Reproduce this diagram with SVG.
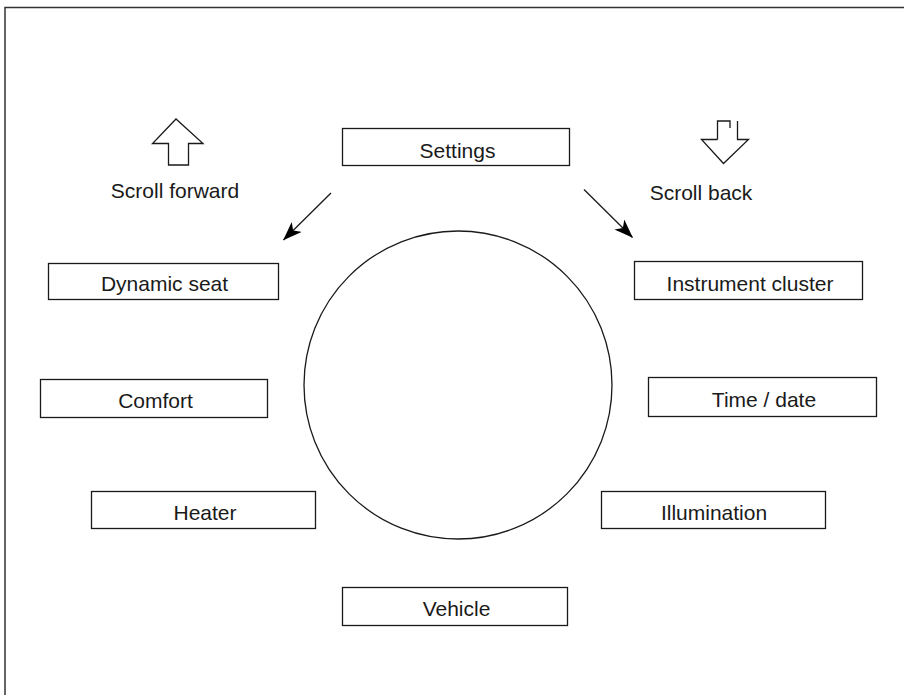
<svg xmlns="http://www.w3.org/2000/svg" width="904" height="695" viewBox="0 0 904 695">
<style>
.box{fill:#fff;stroke:#1a1a1a;stroke-width:1.3}
.lbl{font-family:"Liberation Sans",Arial,sans-serif;font-size:21px;fill:#1a1a1a;text-anchor:middle}
.ln{fill:none;stroke:#1a1a1a;stroke-width:1.3}
</style>
<defs>
<marker id="ah" viewBox="0 0 19 14" refX="18.5" refY="7" markerWidth="19" markerHeight="14" markerUnits="userSpaceOnUse" orient="auto">
<path d="M0,0 L19,7 L0,14 L5,7 Z" fill="#000"/>
</marker>
</defs>
<rect width="904" height="695" fill="#fff"/>
<path d="M5,695 V7.5 H904" fill="none" stroke="#333" stroke-width="1.5"/>
<g id="dial"><circle cx="458" cy="385" r="154" class="ln"/></g>
<g id="scroll-forward">
<path d="M168.5,165 V143.5 H152.5 L176,119 L203,143.5 H188.5 V165 Z" class="ln"/>
<text x="175" y="198" class="lbl">Scroll forward</text>
</g>
<g id="scroll-back">
<path d="M717.5,139.5 V121 H730 V128 M737.5,121 V139.5 H748.5 L723.5,163.5 L701.5,139.5 H717.5" class="ln"/>
<text x="701" y="200" class="lbl">Scroll back</text>
</g>
<g id="settings"><rect x="342.5" y="128.5" width="227" height="37" class="box"/><text x="457.5" y="157.5" class="lbl">Settings</text></g>
<g id="dynamic-seat"><rect x="48.5" y="263.5" width="230" height="36" class="box"/><text x="164.5" y="290.5" class="lbl">Dynamic seat</text></g>
<g id="instrument-cluster"><rect x="634.5" y="261.5" width="228" height="38" class="box"/><text x="750" y="290.5" class="lbl">Instrument cluster</text></g>
<g id="comfort"><rect x="40.5" y="379.5" width="227" height="38" class="box"/><text x="155.5" y="407.5" class="lbl">Comfort</text></g>
<g id="time-date"><rect x="648.5" y="377.5" width="228" height="39" class="box"/><text x="764" y="406.5" class="lbl">Time / date</text></g>
<g id="heater"><rect x="91.5" y="491.5" width="224" height="37" class="box"/><text x="205" y="519.5" class="lbl">Heater</text></g>
<g id="illumination"><rect x="601.5" y="491.5" width="224" height="37" class="box"/><text x="714" y="519.5" class="lbl">Illumination</text></g>
<g id="vehicle"><rect x="342.5" y="587.5" width="225" height="38" class="box"/><text x="456.5" y="615.5" class="lbl">Vehicle</text></g>
<g id="connectors">
<line x1="331" y1="193" x2="283.5" y2="240" class="ln" marker-end="url(#ah)"/>
<line x1="584" y1="189.5" x2="632.5" y2="237.5" class="ln" marker-end="url(#ah)"/>
</g>
</svg>
